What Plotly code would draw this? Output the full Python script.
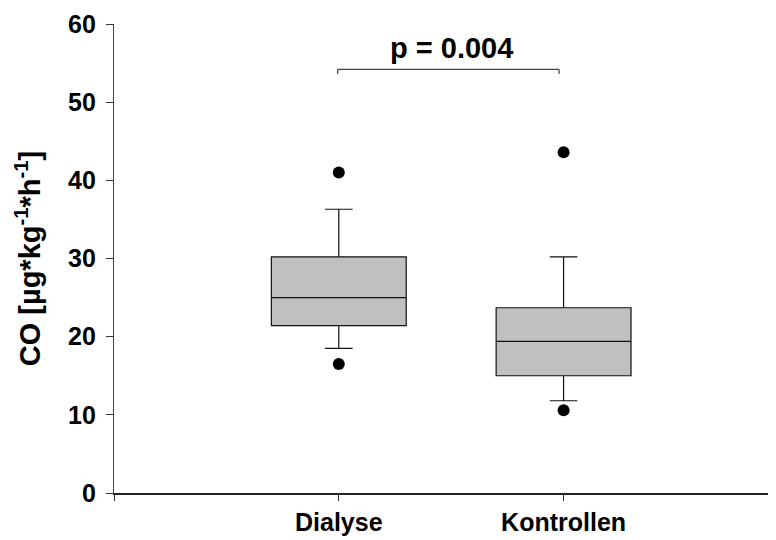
import plotly.graph_objects as go

# ---- data ----
categories = ["Dialyse", "Kontrollen"]
cat_pos = [1, 2]
q1 = [21.4, 15.0]
median = [25.0, 19.4]
q3 = [30.2, 23.7]
lower_whisker = [18.5, 11.8]
upper_whisker = [36.3, 30.2]
outliers_low = [16.5, 10.6]
outliers_high = [41.0, 43.6]
y_ticks = [0, 10, 20, 30, 40, 50, 60]
p_label = "p = 0.004"
p_bracket_y = 54.2

FONT = "Liberation Sans, Arial, sans-serif"

fig = go.Figure()

for i, name in enumerate(categories):
    fig.add_trace(go.Box(
        x=[cat_pos[i]],
        q1=[q1[i]], median=[median[i]], q3=[q3[i]],
        lowerfence=[lower_whisker[i]], upperfence=[upper_whisker[i]],
        name=name,
        width=0.6,
        whiskerwidth=0.205,
        fillcolor="#c0c0c0",
        line=dict(color="#111111", width=1.2),
        boxpoints=False,
        showlegend=False,
        hoverinfo="skip",
    ))

# outliers
fig.add_trace(go.Scatter(
    x=cat_pos + cat_pos,
    y=outliers_low + outliers_high,
    mode="markers",
    marker=dict(color="black", size=12),
    showlegend=False,
    hoverinfo="skip",
))

# significance bracket
bx0, bx1 = cat_pos[0] - 0.005, cat_pos[1] - 0.02
fig.add_shape(type="line", x0=bx0, x1=bx1, y0=p_bracket_y, y1=p_bracket_y,
              xref="x", yref="y", line=dict(color="#444444", width=1.2))
fig.add_shape(type="line", x0=bx0, x1=bx0, y0=p_bracket_y, y1=p_bracket_y - 0.6,
              xref="x", yref="y", line=dict(color="#444444", width=1.2))
fig.add_shape(type="line", x0=bx1, x1=bx1, y0=p_bracket_y, y1=p_bracket_y - 0.6,
              xref="x", yref="y", line=dict(color="#444444", width=1.2))
fig.add_annotation(x=(cat_pos[0] + cat_pos[1]) / 2, y=p_bracket_y + 2.7,
                   xref="x", yref="y", text=p_label, showarrow=False,
                   xanchor="center", yanchor="middle",
                   font=dict(family=FONT, size=29, color="black", weight="bold"))

# the page adds an 8px body margin; the figure is sized so it fits the window exactly
fig.update_layout(
    width=768, height=532,
    margin=dict(l=106, r=0, t=16, b=47),
    plot_bgcolor="white", paper_bgcolor="white",
    showlegend=False,
)

fig.update_xaxes(
    range=[0, 2.945],
    tickmode="array",
    tickvals=[0] + cat_pos,
    ticktext=[""] + categories,
    ticks="outside", ticklen=6, tickwidth=1.2, tickcolor="#333333",
    showline=True, linecolor="#222222", linewidth=1.5,
    showgrid=False, zeroline=False,
    tickfont=dict(family=FONT, size=25, color="black", weight="bold"),
)

fig.update_yaxes(
    range=[0, 60],
    tickmode="array",
    tickvals=y_ticks,
    ticks="outside", ticklen=7, tickwidth=1.2, tickcolor="#333333",
    ticklabelstandoff=5,
    showline=True, linecolor="#444444", linewidth=1.2,
    showgrid=False, zeroline=False,
    tickfont=dict(family=FONT, size=25, color="black", weight="bold"),
    title=dict(text="CO [µg*kg<sup>-1</sup>*h<sup>-1</sup>]",
               font=dict(family=FONT, size=29, color="black", weight="bold"),
               standoff=18),
)

fig.write_html("out.html")
